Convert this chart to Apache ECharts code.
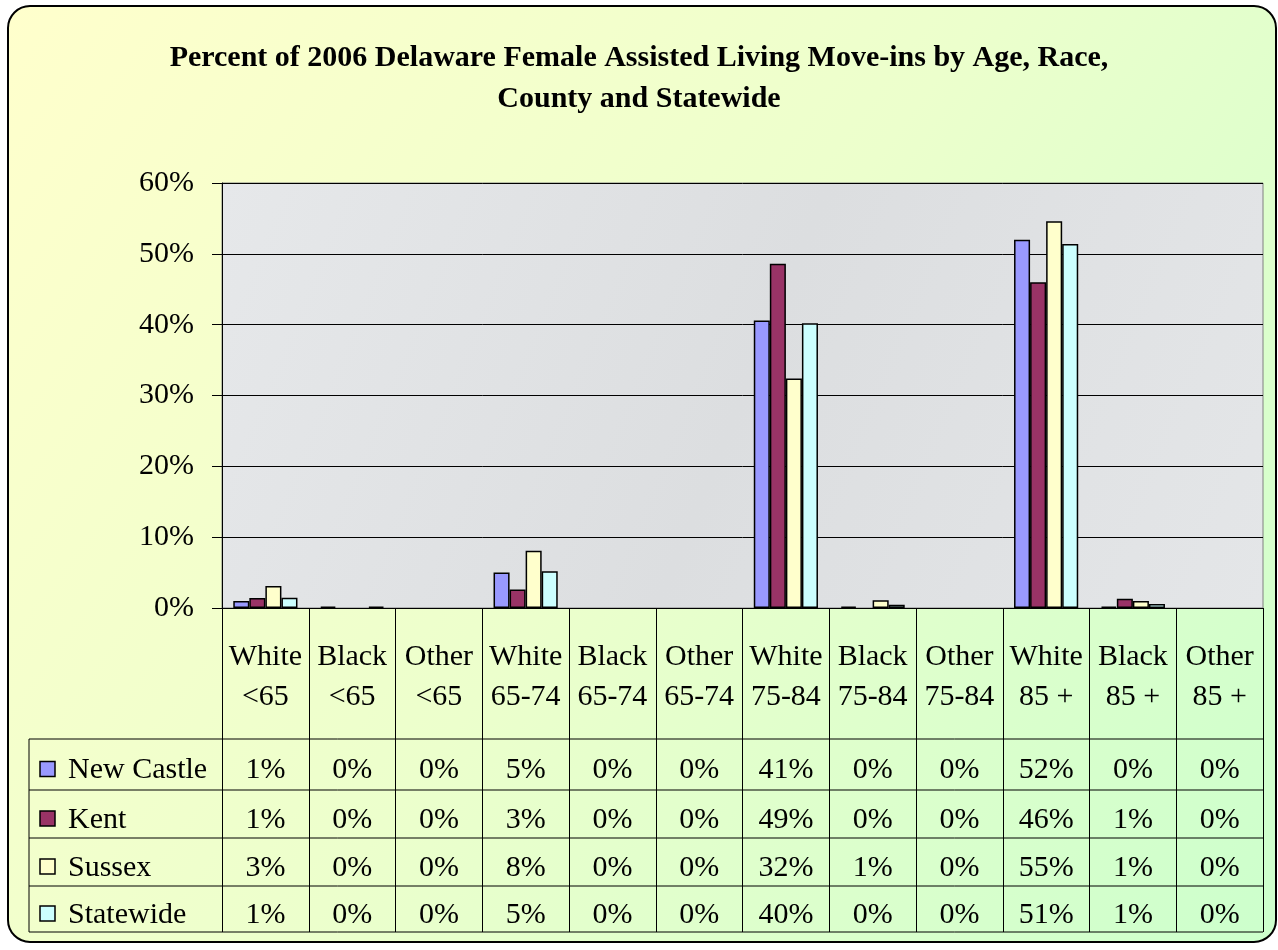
<!DOCTYPE html>
<html>
<head>
<meta charset="utf-8">
<script src="https://cdn.jsdelivr.net/npm/echarts@6/dist/echarts.min.js"></script>
<style>
html, body { margin: 0; padding: 0; background: #fff; }
#chart { width: 1278px; height: 950px; }
</style>
</head>
<body>
<div id="chart"></div>
<script>
// categories (age / race groups)
const categories = ['White\n<65', 'Black\n<65', 'Other\n<65', 'White\n65-74', 'Black\n65-74', 'Other\n65-74',
    'White\n75-84', 'Black\n75-84', 'Other\n75-84', 'White\n85 +', 'Black\n85 +', 'Other\n85 +'];
const seriesNames = ['New Castle', 'Kent', 'Sussex', 'Statewide'];
// percent values
const newCastle = [1.0, 0.2, 0, 5.0, 0, 0, 40.6, 0.2, 0, 52.0, 0.2, 0];
const kent = [1.4, 0, 0, 2.6, 0, 0, 48.6, 0, 0, 46.0, 1.3, 0];
const sussex = [3.1, 0, 0, 8.1, 0, 0, 32.4, 1.1, 0, 54.6, 1.0, 0];
const statewide = [1.45, 0.2, 0, 5.2, 0, 0, 40.2, 0.45, 0, 51.4, 0.55, 0];
const yMax = 60;
const yStep = 10;

const colors = ['#9999ff', '#993366', '#ffffcc', '#ccffff'];
const allData = [newCastle, kent, sussex, statewide];
const font = 'Liberation Serif, Times New Roman, serif';

const myChart = echarts.init(document.getElementById('chart'));

const GRID_L = 222, GRID_R = 1263, GRID_T = 183, GRID_B = 608;
const TABLE_L = 29, TABLE_B = 932;
const rowLines = [739, 790, 838, 886, 932];

const option = {
    animation: false,
    title: {
        text: 'Percent of 2006 Delaware Female Assisted Living Move-ins by Age, Race,\nCounty and Statewide',
        left: 'center',
        top: 33,
        textStyle: {
            fontFamily: font,
            fontSize: 30,
            fontWeight: 'bold',
            color: '#000',
            lineHeight: 41
        }
    },
    grid: {
        left: GRID_L,
        right: 1278 - GRID_R,
        top: GRID_T,
        bottom: 950 - GRID_B,
        show: true,
        backgroundColor: new echarts.graphic.LinearGradient(0, 0, 1, 1, [
            { offset: 0, color: '#e6e8ea' },
            { offset: 0.5, color: '#dcdee0' },
            { offset: 1, color: '#e4e6e8' }
        ]),
        borderColor: '#808080',
        borderWidth: 1
    },
    xAxis: {
        type: 'category',
        data: categories,
        axisLine: { lineStyle: { color: '#000', width: 1 } },
        axisTick: { show: true, length: TABLE_B - GRID_B, lineStyle: { color: '#000', width: 1 } },
        axisLabel: {
            interval: 0,
            margin: 29,
            fontFamily: font,
            fontSize: 30,
            lineHeight: 40,
            color: '#000'
        }
    },
    yAxis: {
        type: 'value',
        min: 0,
        max: yMax,
        interval: yStep,
        axisLine: { show: true, lineStyle: { color: '#000', width: 1 } },
        axisTick: { show: true, length: 10, lineStyle: { color: '#000' } },
        axisLabel: {
            formatter: '{value}%',
            margin: 28,
            fontFamily: font,
            fontSize: 30,
            color: '#000'
        },
        splitLine: { lineStyle: { color: '#000', width: 1 } }
    },
    series: seriesNames.map((name, i) => ({
        name: name,
        type: 'bar',
        // zero values are not drawn in the original, so no outline for them
        data: allData[i].map(v => v === 0 ? { value: 0, itemStyle: { borderWidth: 0 } } : v),
        barGap: '0%',
        barCategoryGap: '26%',
        itemStyle: {
            color: colors[i],
            borderColor: '#000',
            borderWidth: 1.5
        }
    }))
};

myChart.setOption(option);

// data table below the axis, positioned from the category axis
const cellCenters = categories.map((c, i) => myChart.convertToPixel({ xAxisIndex: 0 }, i));
const graphics = [];

// rounded chart frame with yellow-green gradient
graphics.push({
    type: 'rect',
    z: -100,
    shape: { x: 8, y: 6, width: 1268, height: 936, r: 22 },
    style: {
        fill: new echarts.graphic.LinearGradient(0, 0, 1, 1, [
            { offset: 0, color: '#ffffcc' },
            { offset: 0.5, color: '#ecffcc' },
            { offset: 1, color: '#ccffcc' }
        ]),
        stroke: '#000',
        lineWidth: 2
    }
});

rowLines.forEach(y => {
    graphics.push({
        type: 'line',
        z: 10,
        shape: { x1: TABLE_L, y1: y, x2: GRID_R, y2: y },
        style: { stroke: '#000', lineWidth: 1 }
    });
});
graphics.push({
    type: 'line',
    z: 10,
    shape: { x1: TABLE_L, y1: rowLines[0], x2: TABLE_L, y2: TABLE_B },
    style: { stroke: '#000', lineWidth: 1 }
});

seriesNames.forEach((name, r) => {
    const cy = (rowLines[r] + rowLines[r + 1]) / 2 + 5;
    graphics.push({
        type: 'rect',
        z: 10,
        shape: { x: 40, y: cy - 8, width: 15, height: 15 },
        style: { fill: colors[r], stroke: '#000', lineWidth: 1.5 }
    });
    graphics.push({
        type: 'text',
        z: 10,
        x: 68,
        y: cy + 1,
        style: {
            text: name,
            font: '30px ' + font,
            fill: '#000',
            textVerticalAlign: 'middle'
        }
    });
    allData[r].forEach((v, i) => {
        graphics.push({
            type: 'text',
            z: 10,
            x: cellCenters[i],
            y: cy + 1,
            style: {
                text: Math.round(v) + '%',
                font: '30px ' + font,
                fill: '#000',
                textAlign: 'center',
                textVerticalAlign: 'middle'
            }
        });
    });
});

myChart.setOption({ graphic: { elements: graphics } });
</script>
</body>
</html>
